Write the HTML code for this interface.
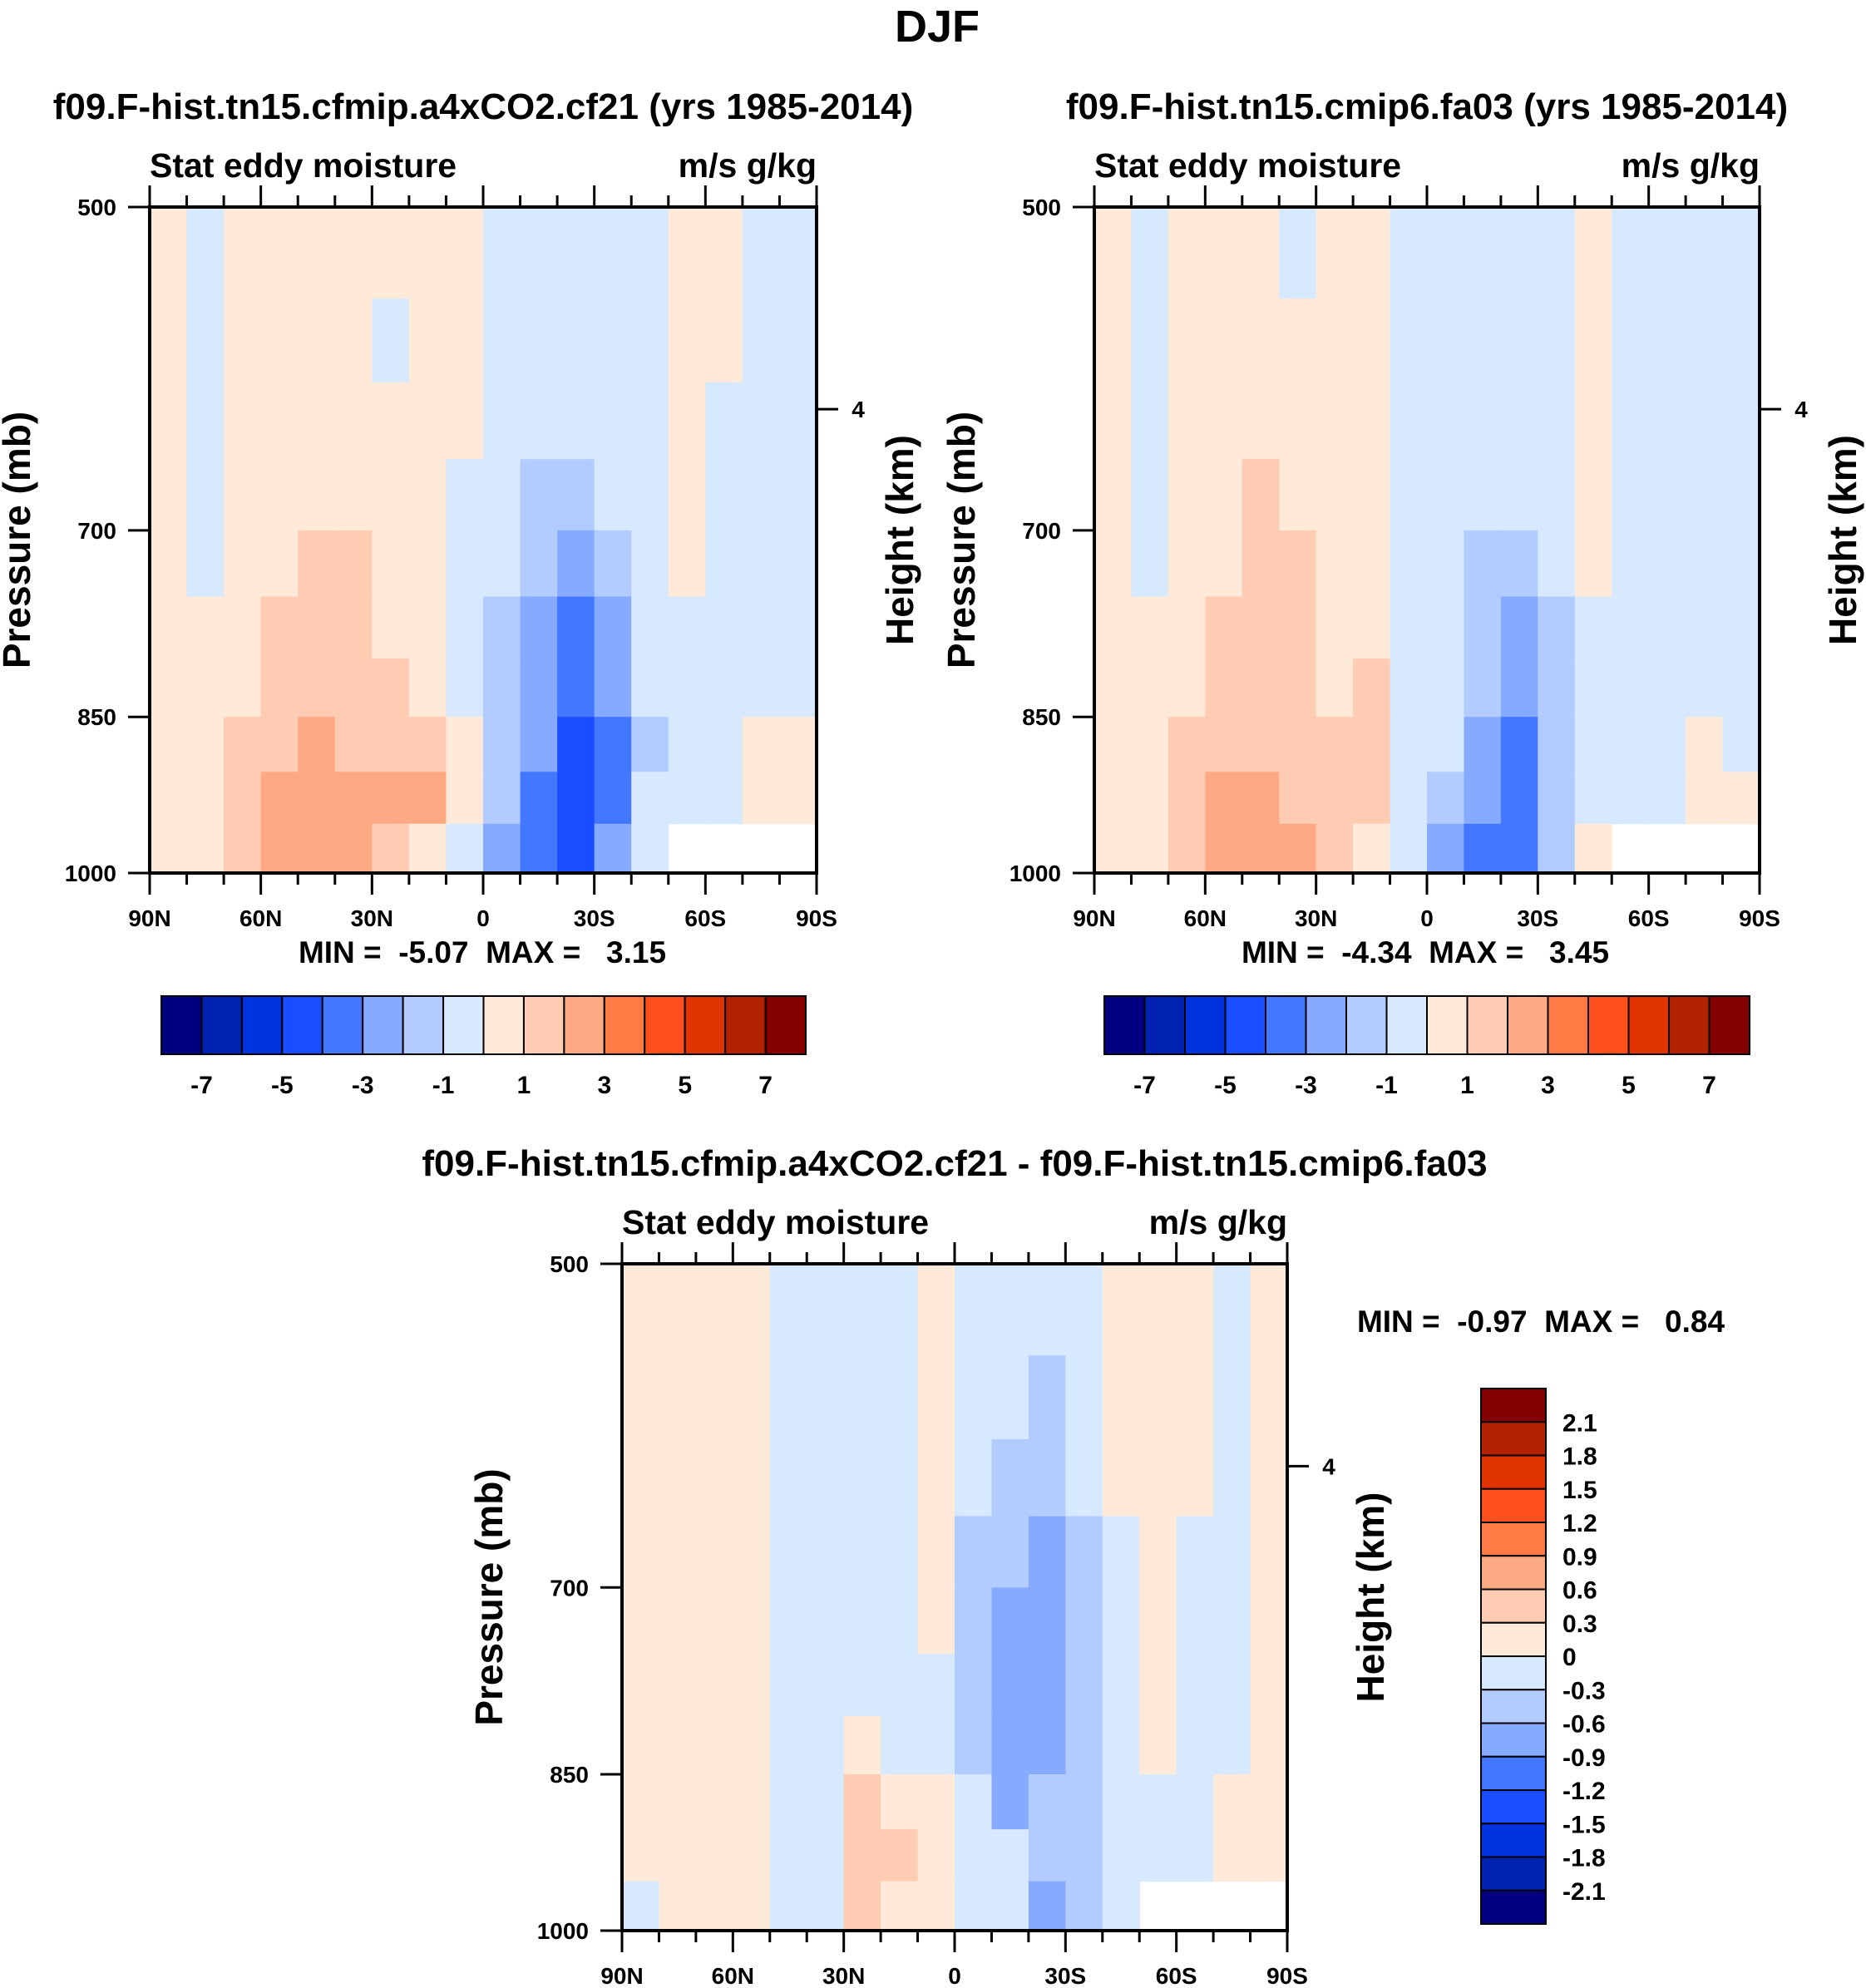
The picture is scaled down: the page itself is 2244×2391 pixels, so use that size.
<!DOCTYPE html>
<html><head><meta charset="utf-8"><style>
html,body{margin:0;padding:0;background:#fff;}
svg{display:block;font-family:"Liberation Sans",sans-serif;font-weight:bold;}
text{white-space:pre;}
</style></head><body>
<svg id="chart" width="2244" height="2391" viewBox="0 0 2244 2391" xmlns="http://www.w3.org/2000/svg" xml:space="preserve">
<rect x="0" y="0" width="2244" height="2391" fill="#fff"/>
<text x="1127" y="50" font-size="54" text-anchor="middle">DJF</text>
</svg>
<script>
// ---- data ----
const latCenters = [85,75,65,55,45,35,25,15,5,-5,-15,-25,-35,-45,-55,-65,-75,-85];
const presEdges = [500,550,600,650,700,750,800,850,900,950,1000];
const pTicks = [500,700,850,1000];
const latTicks = [90,60,30,0,-30,-60,-90];
const latTickLabels = ["90N","60N","30N","0","30S","60S","90S"];
const levels12 = [-8,-7,-6,-5,-4,-3,-2,-1,0,1,2,3,4,5,6,7,8];
const cbLabels12 = ["-7","-5","-3","-1","1","3","5","7"];
const levels3 = [-2.4,-2.1,-1.8,-1.5,-1.2,-0.9,-0.6,-0.3,0,0.3,0.6,0.9,1.2,1.5,1.8,2.1,2.4];
const cbLabels3 = ["2.1","1.8","1.5","1.2","0.9","0.6","0.3","0","-0.3","-0.6","-0.9","-1.2","-1.5","-1.8","-2.1"];
const colors = ["#000080","#0022b0","#0033e0","#1a4dff","#4477ff","#85aaff","#b3ccff","#d6e9ff","#ffe9d8","#fdccb2","#fdaa84","#ff7a45","#ff4f1c","#e03300","#b32200","#850000"];
// rows top(500-550) -> bottom(950-1000); null = missing
const field1 = [
 [0.5,-0.5,0.5,0.5,0.5,0.5,0.5,0.5,0.5,-0.5,-0.5,-0.5,-0.5,-0.5,0.5,0.5,-0.5,-0.5],
 [0.5,-0.5,0.5,0.5,0.5,0.5,-0.5,0.5,0.5,-0.5,-0.5,-0.5,-0.5,-0.5,0.5,0.5,-0.5,-0.5],
 [0.5,-0.5,0.5,0.5,0.5,0.5,0.5,0.5,0.5,-0.5,-0.5,-0.5,-0.5,-0.5,0.5,-0.5,-0.5,-0.5],
 [0.5,-0.5,0.5,0.5,0.5,0.5,0.5,0.5,-0.5,-0.5,-1.5,-1.5,-0.5,-0.5,0.5,-0.5,-0.5,-0.5],
 [0.5,-0.5,0.5,0.5,1.5,1.5,0.5,0.5,-0.5,-0.5,-1.5,-2.5,-1.5,-0.5,0.5,-0.5,-0.5,-0.5],
 [0.5,0.5,0.5,1.5,1.5,1.5,0.5,0.5,-0.5,-1.5,-2.5,-3.5,-2.5,-0.5,-0.5,-0.5,-0.5,-0.5],
 [0.5,0.5,0.5,1.5,1.5,1.5,1.5,0.5,-0.5,-1.5,-2.5,-3.5,-2.5,-0.5,-0.5,-0.5,-0.5,-0.5],
 [0.5,0.5,1.5,1.5,2.5,1.5,1.5,1.5,0.5,-1.5,-2.5,-4.5,-3.5,-1.5,-0.5,-0.5,0.5,0.5],
 [0.5,0.5,1.5,2.5,2.5,2.5,2.5,2.5,0.5,-1.5,-3.5,-4.5,-3.5,-0.5,-0.5,-0.5,0.5,0.5],
 [0.5,0.5,1.5,2.5,2.5,2.5,1.5,0.5,-0.5,-2.5,-3.5,-4.5,-2.5,-0.5,null,null,null,null]
];
const field2 = [
 [0.5,-0.5,0.5,0.5,0.5,-0.5,0.5,0.5,-0.5,-0.5,-0.5,-0.5,-0.5,0.5,-0.5,-0.5,-0.5,-0.5],
 [0.5,-0.5,0.5,0.5,0.5,0.5,0.5,0.5,-0.5,-0.5,-0.5,-0.5,-0.5,0.5,-0.5,-0.5,-0.5,-0.5],
 [0.5,-0.5,0.5,0.5,0.5,0.5,0.5,0.5,-0.5,-0.5,-0.5,-0.5,-0.5,0.5,-0.5,-0.5,-0.5,-0.5],
 [0.5,-0.5,0.5,0.5,1.5,0.5,0.5,0.5,-0.5,-0.5,-0.5,-0.5,-0.5,0.5,-0.5,-0.5,-0.5,-0.5],
 [0.5,-0.5,0.5,0.5,1.5,1.5,0.5,0.5,-0.5,-0.5,-1.5,-1.5,-0.5,0.5,-0.5,-0.5,-0.5,-0.5],
 [0.5,0.5,0.5,1.5,1.5,1.5,0.5,0.5,-0.5,-0.5,-1.5,-2.5,-1.5,-0.5,-0.5,-0.5,-0.5,-0.5],
 [0.5,0.5,0.5,1.5,1.5,1.5,0.5,1.5,-0.5,-0.5,-1.5,-2.5,-1.5,-0.5,-0.5,-0.5,-0.5,-0.5],
 [0.5,0.5,1.5,1.5,1.5,1.5,1.5,1.5,-0.5,-0.5,-2.5,-3.5,-1.5,-0.5,-0.5,-0.5,0.5,-0.5],
 [0.5,0.5,1.5,2.5,2.5,1.5,1.5,1.5,-0.5,-1.5,-2.5,-3.5,-1.5,-0.5,-0.5,-0.5,0.5,0.5],
 [0.5,0.5,1.5,2.5,2.5,2.5,1.5,0.5,-0.5,-2.5,-3.5,-3.5,-1.5,0.5,null,null,null,null]
];
const field3 = [
 [0.15,0.15,0.15,0.15,-0.15,-0.15,-0.15,-0.15,0.15,-0.15,-0.15,-0.15,-0.15,0.15,0.15,0.15,-0.15,0.15],
 [0.15,0.15,0.15,0.15,-0.15,-0.15,-0.15,-0.15,0.15,-0.15,-0.15,-0.45,-0.15,0.15,0.15,0.15,-0.15,0.15],
 [0.15,0.15,0.15,0.15,-0.15,-0.15,-0.15,-0.15,0.15,-0.15,-0.45,-0.45,-0.15,0.15,0.15,0.15,-0.15,0.15],
 [0.15,0.15,0.15,0.15,-0.15,-0.15,-0.15,-0.15,0.15,-0.45,-0.45,-0.75,-0.45,-0.15,0.15,-0.15,-0.15,0.15],
 [0.15,0.15,0.15,0.15,-0.15,-0.15,-0.15,-0.15,0.15,-0.45,-0.75,-0.75,-0.45,-0.15,0.15,-0.15,-0.15,0.15],
 [0.15,0.15,0.15,0.15,-0.15,-0.15,-0.15,-0.15,-0.15,-0.45,-0.75,-0.75,-0.45,-0.15,0.15,-0.15,-0.15,0.15],
 [0.15,0.15,0.15,0.15,-0.15,-0.15,0.15,-0.15,-0.15,-0.45,-0.75,-0.75,-0.45,-0.15,0.15,-0.15,-0.15,0.15],
 [0.15,0.15,0.15,0.15,-0.15,-0.15,0.45,0.15,0.15,-0.15,-0.75,-0.45,-0.45,-0.15,-0.15,-0.15,0.15,0.15],
 [0.15,0.15,0.15,0.15,-0.15,-0.15,0.45,0.45,0.15,-0.15,-0.15,-0.45,-0.45,-0.15,-0.15,-0.15,0.15,0.15],
 [-0.15,0.15,0.15,0.15,-0.15,-0.15,0.45,0.15,0.15,-0.15,-0.15,-0.75,-0.45,-0.15,null,null,null,null]
];
const SVGNS="http://www.w3.org/2000/svg";
const svg=document.getElementById('chart');
function el(tag,attrs,parent){const e=document.createElementNS(SVGNS,tag);for(const k in attrs)e.setAttribute(k,attrs[k]);(parent||svg).appendChild(e);return e;}
function txt(s,x,y,size,anchor,parent){const t=el('text',{x:x,y:y,'font-size':size,'text-anchor':anchor||'middle'},parent);t.textContent=s;return t;}
function colorFor(v,levels){for(let i=0;i<levels.length-1;i++){if(v<levels[i+1])return colors[i];}return colors[colors.length-1];}

function panel(o){
  const g=el('g',{});
  
  
  const X=lat=>o.x0+(90-lat)/180*(o.x1-o.x0);
  const lp0=Math.log(500),lp1=Math.log(1000);
  const Y=p=>o.y0+(Math.log(p)-lp0)/(lp1-lp0)*(o.y1-o.y0);
  for(let r=0;r<o.field.length;r++){
    for(let c=0;c<latCenters.length;c++){
      const v=o.field[r][c];
      if(v===null)continue;
      const xa=X(latCenters[c]+5),xb=X(latCenters[c]-5);
      const ya=Y(presEdges[r]),yb=Y(presEdges[r+1]);
      const cell=el('rect',{x:xa,y:ya,width:xb-xa+0.6,height:yb-ya+0.6,fill:colorFor(v,o.levels)},g);
      
      
    }
  }
  const frame=el('rect',{x:o.x0,y:o.y0,width:o.x1-o.x0,height:o.y1-o.y0,fill:'none',stroke:'#000','stroke-width':4},g);
  
  
  for(let lat=90;lat>=-90;lat-=10){
    const major=lat%30===0;const L=major?26:14;const x=X(lat);
    el('line',{x1:x,y1:o.y0,x2:x,y2:o.y0-L,stroke:'#000','stroke-width':3},g);
    el('line',{x1:x,y1:o.y1,x2:x,y2:o.y1+L,stroke:'#000','stroke-width':3},g);
  }
  latTicks.forEach((lat,i)=>{const t=txt(latTickLabels[i],X(lat),o.y1+64,28,'middle',g);
    
    });
  pTicks.forEach(p=>{const y=Y(p);
    el('line',{x1:o.x0,y1:y,x2:o.x0-26,y2:y,stroke:'#000','stroke-width':3},g);
    const t=txt(String(p),o.x0-40,y+10,28,'end',g);
    
    });
  const y4=o.y0+(o.y1-o.y0)*0.3035;
  el('line',{x1:o.x1,y1:y4,x2:o.x1+26,y2:y4,stroke:'#000','stroke-width':3},g);
  txt('4',o.x1+50,y4+10,28,'middle',g);
  const t1=txt('Stat eddy moisture',o.x0,o.y0-36,41,'start',g);
  
  
  const t2=txt('m/s g/kg',o.x1,o.y0-36,41,'end',g);
  
  
  const cy=(o.y0+o.y1)/2;
  const py=el('text',{x:0,y:0,'font-size':46,'text-anchor':'middle',transform:`translate(${o.x0-144},${cy}) rotate(-90)`},g);
  py.textContent='Pressure (mb)';
  
  
  const hy=el('text',{x:0,y:0,'font-size':46,'text-anchor':'middle',transform:`translate(${o.x1+116},${cy}) rotate(-90)`},g);
  hy.textContent='Height (km)';
  
  
  const tt=txt(o.title,(o.x0+o.x1)/2,o.y0-106,o.tsize,'middle',g);
  
  
  return g;
}
function hbar(x0,x1,y0,y1,labels,name){
  const g=el('g',{});
  
  
  const w=(x1-x0)/16;
  colors.forEach((c,i)=>{const r=el('rect',{x:x0+i*w,y:y0,width:w,height:y1-y0,fill:c,stroke:'#000','stroke-width':2},g);
    
    });
  labels.forEach((s,i)=>{txt(s,x0+(1+2*i)*w,y1+47,30,'middle',g);});
}
function vbar(x0,x1,y0,y1,labels,name){
  const g=el('g',{});
  
  
  const h=(y1-y0)/16;
  colors.slice().reverse().forEach((c,i)=>{const r=el('rect',{x:x0,y:y0+i*h,width:x1-x0,height:h,fill:c,stroke:'#000','stroke-width':2},g);
    
    });
  labels.forEach((s,i)=>{txt(s,x1+20,y0+(i+1)*h+11,30,'start',g);});
}
panel({name:'panel-cf21',x0:180,x1:982,y0:249,y1:1050,field:field1,levels:levels12,tsize:44,title:'f09.F-hist.tn15.cfmip.a4xCO2.cf21 (yrs 1985-2014)'});
panel({name:'panel-fa03',x0:1316,x1:2116,y0:249,y1:1050,field:field2,levels:levels12,tsize:44,title:'f09.F-hist.tn15.cmip6.fa03 (yrs 1985-2014)'});
panel({name:'panel-diff',x0:748,x1:1548,y0:1520,y1:2322,field:field3,levels:levels3,tsize:44,title:'f09.F-hist.tn15.cfmip.a4xCO2.cf21 - f09.F-hist.tn15.cmip6.fa03'});
hbar(194,969,1198,1268,cbLabels12,'colorbar-cf21');
hbar(1328,2104,1198,1268,cbLabels12,'colorbar-fa03');
vbar(1781,1859,1670,2314,cbLabels3,'colorbar-diff');
txt('MIN =  -5.07  MAX =   3.15',580,1158,37,'middle');
txt('MIN =  -4.34  MAX =   3.45',1714,1158,37,'middle');
txt('MIN =  -0.97  MAX =   0.84',1853,1602,37,'middle');
</script>
</body></html>
